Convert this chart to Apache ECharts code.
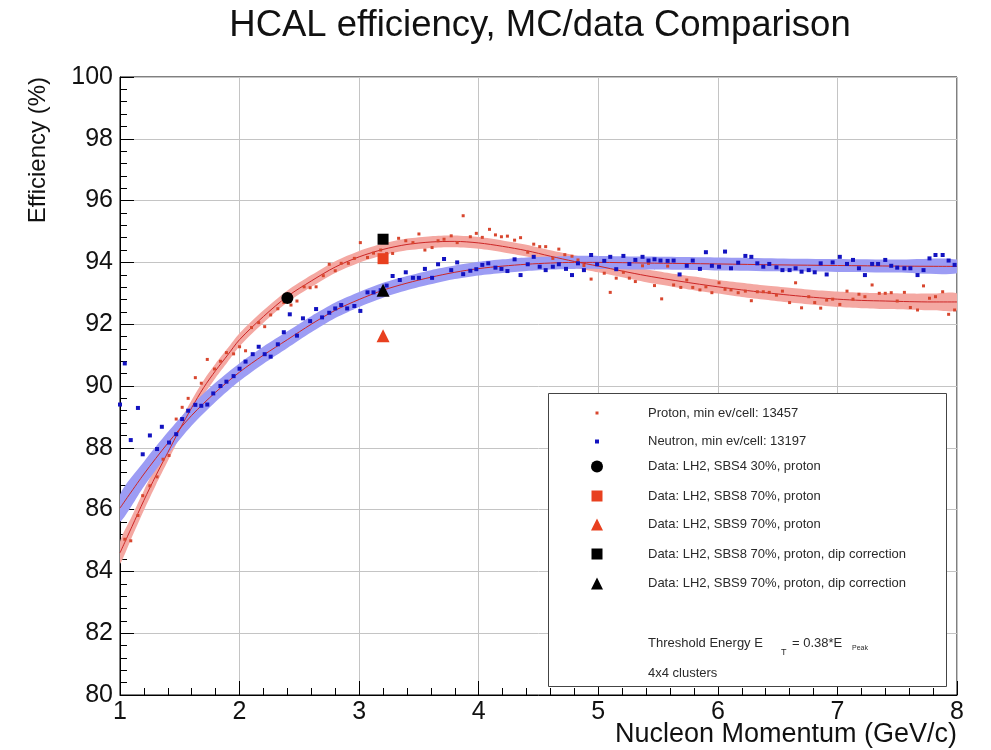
<!DOCTYPE html>
<html><head><meta charset="utf-8">
<script src="https://cdn.jsdelivr.net/npm/echarts@6/dist/echarts.min.js"></script>
<style>html,body{margin:0;padding:0;background:#fff}#c{width:991px;height:750px}</style>
</head><body><div id="c"></div>
<script>
// ---------- data ----------
const xTicks = [1,2,3,4,5,6,7,8];
const yTicks = [80,82,84,86,88,90,92,94,96,98,100];

const protonPts = [[1.04,85.04],[1.09,84.99],[1.15,85.81],[1.19,86.45],[1.25,86.77],[1.31,87.06],[1.36,87.63],[1.41,87.75],[1.47,88.93],[1.52,89.31],[1.57,89.6],[1.63,90.27],[1.68,90.09],[1.73,90.86],[1.79,90.55],[1.84,90.8],[1.89,91.08],[1.95,91.04],[2.00,91.27],[2.05,91.14],[2.10,91.89],[2.16,92.05],[2.21,91.92],[2.26,92.3],[2.32,92.5],[2.37,92.7],[2.43,92.62],[2.48,92.75],[2.54,93.21],[2.59,93.18],[2.64,93.21],[2.70,93.57],[2.75,93.94],[2.80,93.73],[2.85,93.97],[2.91,93.97],[2.96,94.13],[3.01,94.64],[3.07,94.16],[3.12,94.3],[3.18,94.4],[3.23,94.29],[3.28,94.29],[3.33,94.78],[3.39,94.70],[3.45,94.64],[3.50,94.92],[3.55,94.40],[3.61,94.48],[3.66,94.70],[3.71,94.75],[3.77,94.86],[3.82,94.64],[3.87,95.51],[3.93,94.83],[3.98,94.94],[4.03,94.81],[4.09,95.07],[4.14,94.89],[4.19,94.83],[4.24,94.85],[4.30,94.72],[4.35,94.80],[4.41,94.33],[4.46,94.59],[4.51,94.51],[4.56,94.51],[4.62,94.13],[4.67,94.43],[4.72,94.25],[4.78,94.2],[4.83,94.08],[4.88,93.9],[4.94,93.46],[4.99,93.95],[5.05,93.65],[5.10,93.03],[5.15,93.49],[5.21,93.68],[5.26,93.49],[5.31,93.38],[5.37,93.89],[5.42,93.97],[5.47,93.25],[5.53,92.82],[5.58,93.88],[5.63,93.27],[5.69,93.19],[5.74,93.43],[5.79,93.19],[5.85,93.11],[5.90,93.21],[5.95,93.02],[6.01,93.34],[6.06,93.13],[6.11,93.11],[6.17,93.02],[6.23,93.07],[6.28,92.76],[6.33,93.05],[6.38,93.05],[6.43,93.03],[6.49,92.94],[6.54,93.07],[6.60,92.70],[6.65,93.34],[6.70,92.53],[6.76,92.89],[6.81,92.70],[6.86,92.52],[6.91,92.78],[6.96,92.81],[7.02,92.64],[7.08,93.07],[7.13,92.81],[7.18,92.97],[7.23,92.89],[7.29,93.27],[7.35,93.0],[7.40,93.0],[7.45,93.02],[7.50,92.75],[7.56,93.03],[7.61,92.54],[7.67,92.46],[7.72,93.24],[7.77,92.84],[7.82,92.89],[7.88,93.05],[7.93,92.32],[7.98,92.46]];

const neutronPts = [[1.00,89.4],[1.04,90.73],[1.09,88.25],[1.15,89.29],[1.19,87.79],[1.25,88.4],[1.31,87.96],[1.35,88.68],[1.41,88.17],[1.47,88.44],[1.52,88.93],[1.57,89.2],[1.63,89.39],[1.68,89.36],[1.73,89.4],[1.78,89.76],[1.84,90.0],[1.89,90.14],[1.95,90.32],[2.00,90.56],[2.05,90.79],[2.11,91.03],[2.16,91.27],[2.21,91.03],[2.26,90.95],[2.32,91.35],[2.37,91.74],[2.42,92.32],[2.48,91.63],[2.53,92.19],[2.59,92.1],[2.64,92.49],[2.69,92.22],[2.75,92.37],[2.80,92.51],[2.85,92.62],[2.90,92.51],[2.96,92.59],[3.01,92.43],[3.07,93.03],[3.12,93.03],[3.18,93.1],[3.23,93.25],[3.28,93.56],[3.34,93.43],[3.39,93.68],[3.45,93.5],[3.50,93.5],[3.55,93.79],[3.61,93.5],[3.66,93.94],[3.71,94.11],[3.77,93.75],[3.82,94.0],[3.87,93.62],[3.93,93.73],[3.98,93.78],[4.03,93.92],[4.08,93.97],[4.14,93.83],[4.19,93.79],[4.24,93.72],[4.30,94.1],[4.35,93.59],[4.41,93.94],[4.46,94.18],[4.51,93.86],[4.56,93.75],[4.62,93.86],[4.67,93.94],[4.73,93.79],[4.78,93.59],[4.83,93.97],[4.88,93.75],[4.94,94.24],[4.99,93.94],[5.05,94.05],[5.10,94.18],[5.15,93.78],[5.21,94.21],[5.26,93.95],[5.31,94.08],[5.37,94.18],[5.42,94.06],[5.47,94.10],[5.52,94.06],[5.58,94.05],[5.63,94.06],[5.68,93.61],[5.74,93.89],[5.79,94.06],[5.85,93.79],[5.90,94.33],[5.95,93.89],[6.01,93.86],[6.06,94.35],[6.11,93.81],[6.17,93.99],[6.23,94.21],[6.28,94.18],[6.33,93.97],[6.38,93.86],[6.43,93.95],[6.49,93.84],[6.54,93.75],[6.60,93.75],[6.65,93.81],[6.70,93.70],[6.76,93.75],[6.81,93.68],[6.86,93.97],[6.91,93.61],[6.96,94.0],[7.02,94.18],[7.08,93.95],[7.13,94.08],[7.18,93.81],[7.23,93.59],[7.29,93.95],[7.34,93.95],[7.40,94.08],[7.45,93.89],[7.50,93.83],[7.56,93.81],[7.61,93.81],[7.67,93.59],[7.72,93.75],[7.77,94.13],[7.82,94.24],[7.88,94.24],[7.93,94.06],[7.98,93.92]];

// fit curves (centre value and half-width of the shaded band)
const protonFitX   = [1.0,1.1,1.2,1.3,1.4,1.5,1.6,1.7,1.8,1.9,2.0,2.2,2.4,2.6,2.8,3.0,3.2,3.4,3.6,3.8,4.0,4.2,4.4,4.6,4.8,5.0,5.2,5.4,5.6,5.8,6.0,6.2,6.4,6.6,6.8,7.0,7.2,7.4,7.6,7.8,8.0];
const protonFitY   = [84.6,85.45,86.3,87.1,87.85,88.6,89.3,89.95,90.5,91.0,91.5,92.25,92.9,93.4,93.85,94.18,94.42,94.58,94.66,94.68,94.63,94.52,94.38,94.2,94.03,93.88,93.72,93.57,93.44,93.32,93.21,93.11,93.02,92.94,92.87,92.81,92.77,92.75,92.73,92.72,92.72];
const protonFitErr = [0.36,0.34,0.32,0.3,0.28,0.26,0.25,0.24,0.23,0.22,0.21,0.2,0.19,0.19,0.19,0.19,0.19,0.19,0.19,0.19,0.19,0.19,0.19,0.19,0.2,0.2,0.2,0.21,0.21,0.22,0.22,0.23,0.23,0.24,0.24,0.25,0.25,0.26,0.26,0.27,0.27];

const neutronFitX   = [1.0,1.2,1.4,1.6,1.8,2.0,2.2,2.4,2.6,2.8,3.0,3.2,3.4,3.6,3.8,4.0,4.2,4.4,4.6,4.8,5.0,5.4,6.0,6.5,7.0,7.5,8.0];
const neutronFitY   = [86.05,87.15,88.15,89.05,89.8,90.45,91.0,91.5,92.0,92.45,92.8,93.1,93.33,93.52,93.68,93.8,93.88,93.94,93.98,94.0,94.0,93.98,93.95,93.92,93.9,93.88,93.87];
const neutronFitErr = [0.44,0.4,0.36,0.33,0.31,0.29,0.28,0.27,0.26,0.25,0.24,0.24,0.23,0.23,0.22,0.22,0.22,0.22,0.21,0.21,0.21,0.21,0.21,0.21,0.21,0.21,0.22];

const sbs4Proton    = [[2.40, 92.85]];
const sbs8Proton    = [[3.20, 94.12]];
const sbs9Proton    = [[3.20, 91.63]];
const sbs8ProtonDip = [[3.20, 94.75]];
const sbs9ProtonDip = [[3.20, 93.10]];

const legendNames = [
  'Proton, min ev/cell: 13457',
  'Neutron, min ev/cell: 13197',
  'Data: LH2, SBS4 30%, proton',
  'Data: LH2, SBS8 70%, proton',
  'Data: LH2, SBS9 70%, proton',
  'Data: LH2, SBS8 70%, proton, dip correction',
  'Data: LH2, SBS9 70%, proton, dip correction'
];

// ---------- chart ----------
const FONT = "'Liberation Sans', Arial, Helvetica, sans-serif";
const RED = '#e8401f';
const PROTON_COL = '#d8462e';
const NEUTRON_COL = '#1212c0';
const RED_BAND = '#f4a8a2';
const BLUE_BAND = '#9c9cf4';
const FIT_LINE = '#cc2626';

// shaded confidence band drawn as one polygon through the axis scales
function bandSeries(name, xs, ys, es, color, z) {
  const rows = xs.map((x, i) => [x, ys[i] - es[i], ys[i] + es[i]]);
  return {
    name: name, type: 'custom', silent: true, z: z,
    data: rows,
    encode: { x: 0, y: [1, 2] },
    clip: true,
    renderItem: function (params, api) {
      if (params.dataIndex !== 0) return null;
      const upper = rows.map(r => api.coord([r[0], r[2]]));
      const lower = rows.map(r => api.coord([r[0], r[1]])).reverse();
      return {
        type: 'polygon',
        shape: { points: upper.concat(lower), smooth: 0.25 },
        style: { fill: color, stroke: 'none' }
      };
    }
  };
}
function fitLine(name, xs, ys, z) {
  return { name: name, type: 'line', data: xs.map((x, i) => [x, ys[i]]), smooth: 0.3, symbol: 'none',
    lineStyle: { color: FIT_LINE, width: 1 }, silent: true, z: z };
}
function markerSeries(name, data, symbol, size, color, z) {
  return { name: name, type: 'scatter', data: data, symbol: symbol, symbolSize: size,
    itemStyle: { color: color, opacity: 1 }, emphasis: { disabled: true }, z: z };
}

const legendSpec = [
  { name: legendNames[0], icon: 'rect', w: 3, h: 3, yc: 408 },
  { name: legendNames[1], icon: 'rect', w: 4, h: 4, yc: 437 },
  { name: legendNames[2], icon: 'circle', w: 12, h: 12, yc: 466 },
  { name: legendNames[3], icon: 'rect', w: 11, h: 11, yc: 495 },
  { name: legendNames[4], icon: 'triangle', w: 12, h: 12, yc: 524 },
  { name: legendNames[5], icon: 'rect', w: 11, h: 11, yc: 553 },
  { name: legendNames[6], icon: 'triangle', w: 12, h: 12, yc: 583 }
];
const legends = legendSpec.map(s => ({
  data: [{ name: s.name, icon: s.icon }],
  left: 597 - s.w / 2, top: s.yc - s.h / 2, z: 30,
  itemWidth: s.w, itemHeight: s.h, padding: 0, selectedMode: false, orient: 'vertical',
  textStyle: { fontFamily: FONT, fontSize: 13, color: '#2a2a2a', padding: [0, 0, 0, 648 - (597 + s.w / 2) - 5] }
}));

const chart = echarts.init(document.getElementById('c'), null, { renderer: 'canvas' });
const option = {
  animation: false,
  backgroundColor: '#fff',
  title: {
    text: 'HCAL efficiency, MC/data Comparison',
    left: 535, top: 2, textAlign: 'center',
    textStyle: { fontFamily: FONT, fontSize: 36.5, fontWeight: 'normal', color: '#111' }
  },
  legend: legends,
  grid: { left: 120, right: 34, top: 77, bottom: 55, show: true, borderColor: '#000', borderWidth: 1, backgroundColor: 'transparent' },
  xAxis: {
    type: 'value', min: 1, max: 8, interval: 1,
    axisLine: { show: true, onZero: false, lineStyle: { color: '#000', width: 1 } },
    axisTick: { show: true, inside: true, length: 14, lineStyle: { color: '#000' } },
    minorTick: { show: true, splitNumber: 5, length: 7, lineStyle: { color: '#000' } },
    splitLine: { show: true, lineStyle: { color: '#c4c4c4', width: 1 } },
    axisLabel: { fontFamily: FONT, fontSize: 25, color: '#111', margin: 5,
      formatter: v => (xTicks.indexOf(v) >= 0 ? String(v) : '') }
  },
  yAxis: {
    type: 'value', min: 80, max: 100, interval: 2,
    axisLine: { show: true, onZero: false, lineStyle: { color: '#000', width: 1 } },
    axisTick: { show: true, inside: true, length: 14, lineStyle: { color: '#000' } },
    minorTick: { show: true, splitNumber: 5, length: 7, lineStyle: { color: '#000' } },
    splitLine: { show: true, lineStyle: { color: '#c4c4c4', width: 1 } },
    axisLabel: { fontFamily: FONT, fontSize: 25, color: '#111', margin: 7,
      formatter: v => (yTicks.indexOf(v) >= 0 ? String(v) : '') }
  },
  series: [
    bandSeries('pfit', protonFitX, protonFitY, protonFitErr, RED_BAND, 1),
    bandSeries('nfit', neutronFitX, neutronFitY, neutronFitErr, BLUE_BAND, 2),
    fitLine('pfitline', protonFitX, protonFitY, 3),
    fitLine('nfitline', neutronFitX, neutronFitY, 3),
    markerSeries(legendNames[0], protonPts, 'rect', 3, PROTON_COL, 4),
    markerSeries(legendNames[1], neutronPts, 'rect', 4, NEUTRON_COL, 4),
    markerSeries(legendNames[2], sbs4Proton, 'circle', 12, '#000', 5),
    markerSeries(legendNames[3], sbs8Proton, 'rect', 11, RED, 5),
    markerSeries(legendNames[4], sbs9Proton, 'triangle', 13, RED, 5),
    markerSeries(legendNames[5], sbs8ProtonDip, 'rect', 11, '#000', 5),
    markerSeries(legendNames[6], sbs9ProtonDip, 'triangle', 13, '#000', 5)
  ],
  graphic: [
    { type: 'rect', left: 548, top: 393, z: 10, silent: true,
      shape: { width: 398, height: 293 }, style: { fill: '#fff', stroke: '#444', lineWidth: 1 } },
    { type: 'text', x: 648, y: 643, z: 12, silent: true,
      style: { text: 'Threshold Energy E', fontFamily: FONT, fontSize: 13, fill: '#2a2a2a', textVerticalAlign: 'middle' } },
    { type: 'text', x: 781, y: 653, z: 12, silent: true,
      style: { text: 'T', fontFamily: FONT, fontSize: 9, fill: '#2a2a2a', textVerticalAlign: 'middle' } },
    { type: 'text', x: 792, y: 643, z: 12, silent: true,
      style: { text: '= 0.38*E', fontFamily: FONT, fontSize: 13, fill: '#2a2a2a', textVerticalAlign: 'middle' } },
    { type: 'text', x: 852, y: 648, z: 12, silent: true,
      style: { text: 'Peak', fontFamily: FONT, fontSize: 7, fill: '#2a2a2a', textVerticalAlign: 'middle' } },
    { type: 'text', x: 648, y: 673, z: 12, silent: true,
      style: { text: '4x4 clusters', fontFamily: FONT, fontSize: 13, fill: '#2a2a2a', textVerticalAlign: 'middle' } },
    { type: 'text', x: 38, y: 77, rotation: Math.PI / 2, silent: true,
      style: { text: 'Efficiency (%)', fontFamily: FONT, fontSize: 24, fill: '#111', textAlign: 'right', textVerticalAlign: 'middle' } },
    { type: 'text', x: 957, y: 735, silent: true,
      style: { text: 'Nucleon Momentum (GeV/c)', fontFamily: FONT, fontSize: 27, fill: '#111', textAlign: 'right', textVerticalAlign: 'middle' } }
  ]
};
chart.setOption(option);
</script>
</body></html>
